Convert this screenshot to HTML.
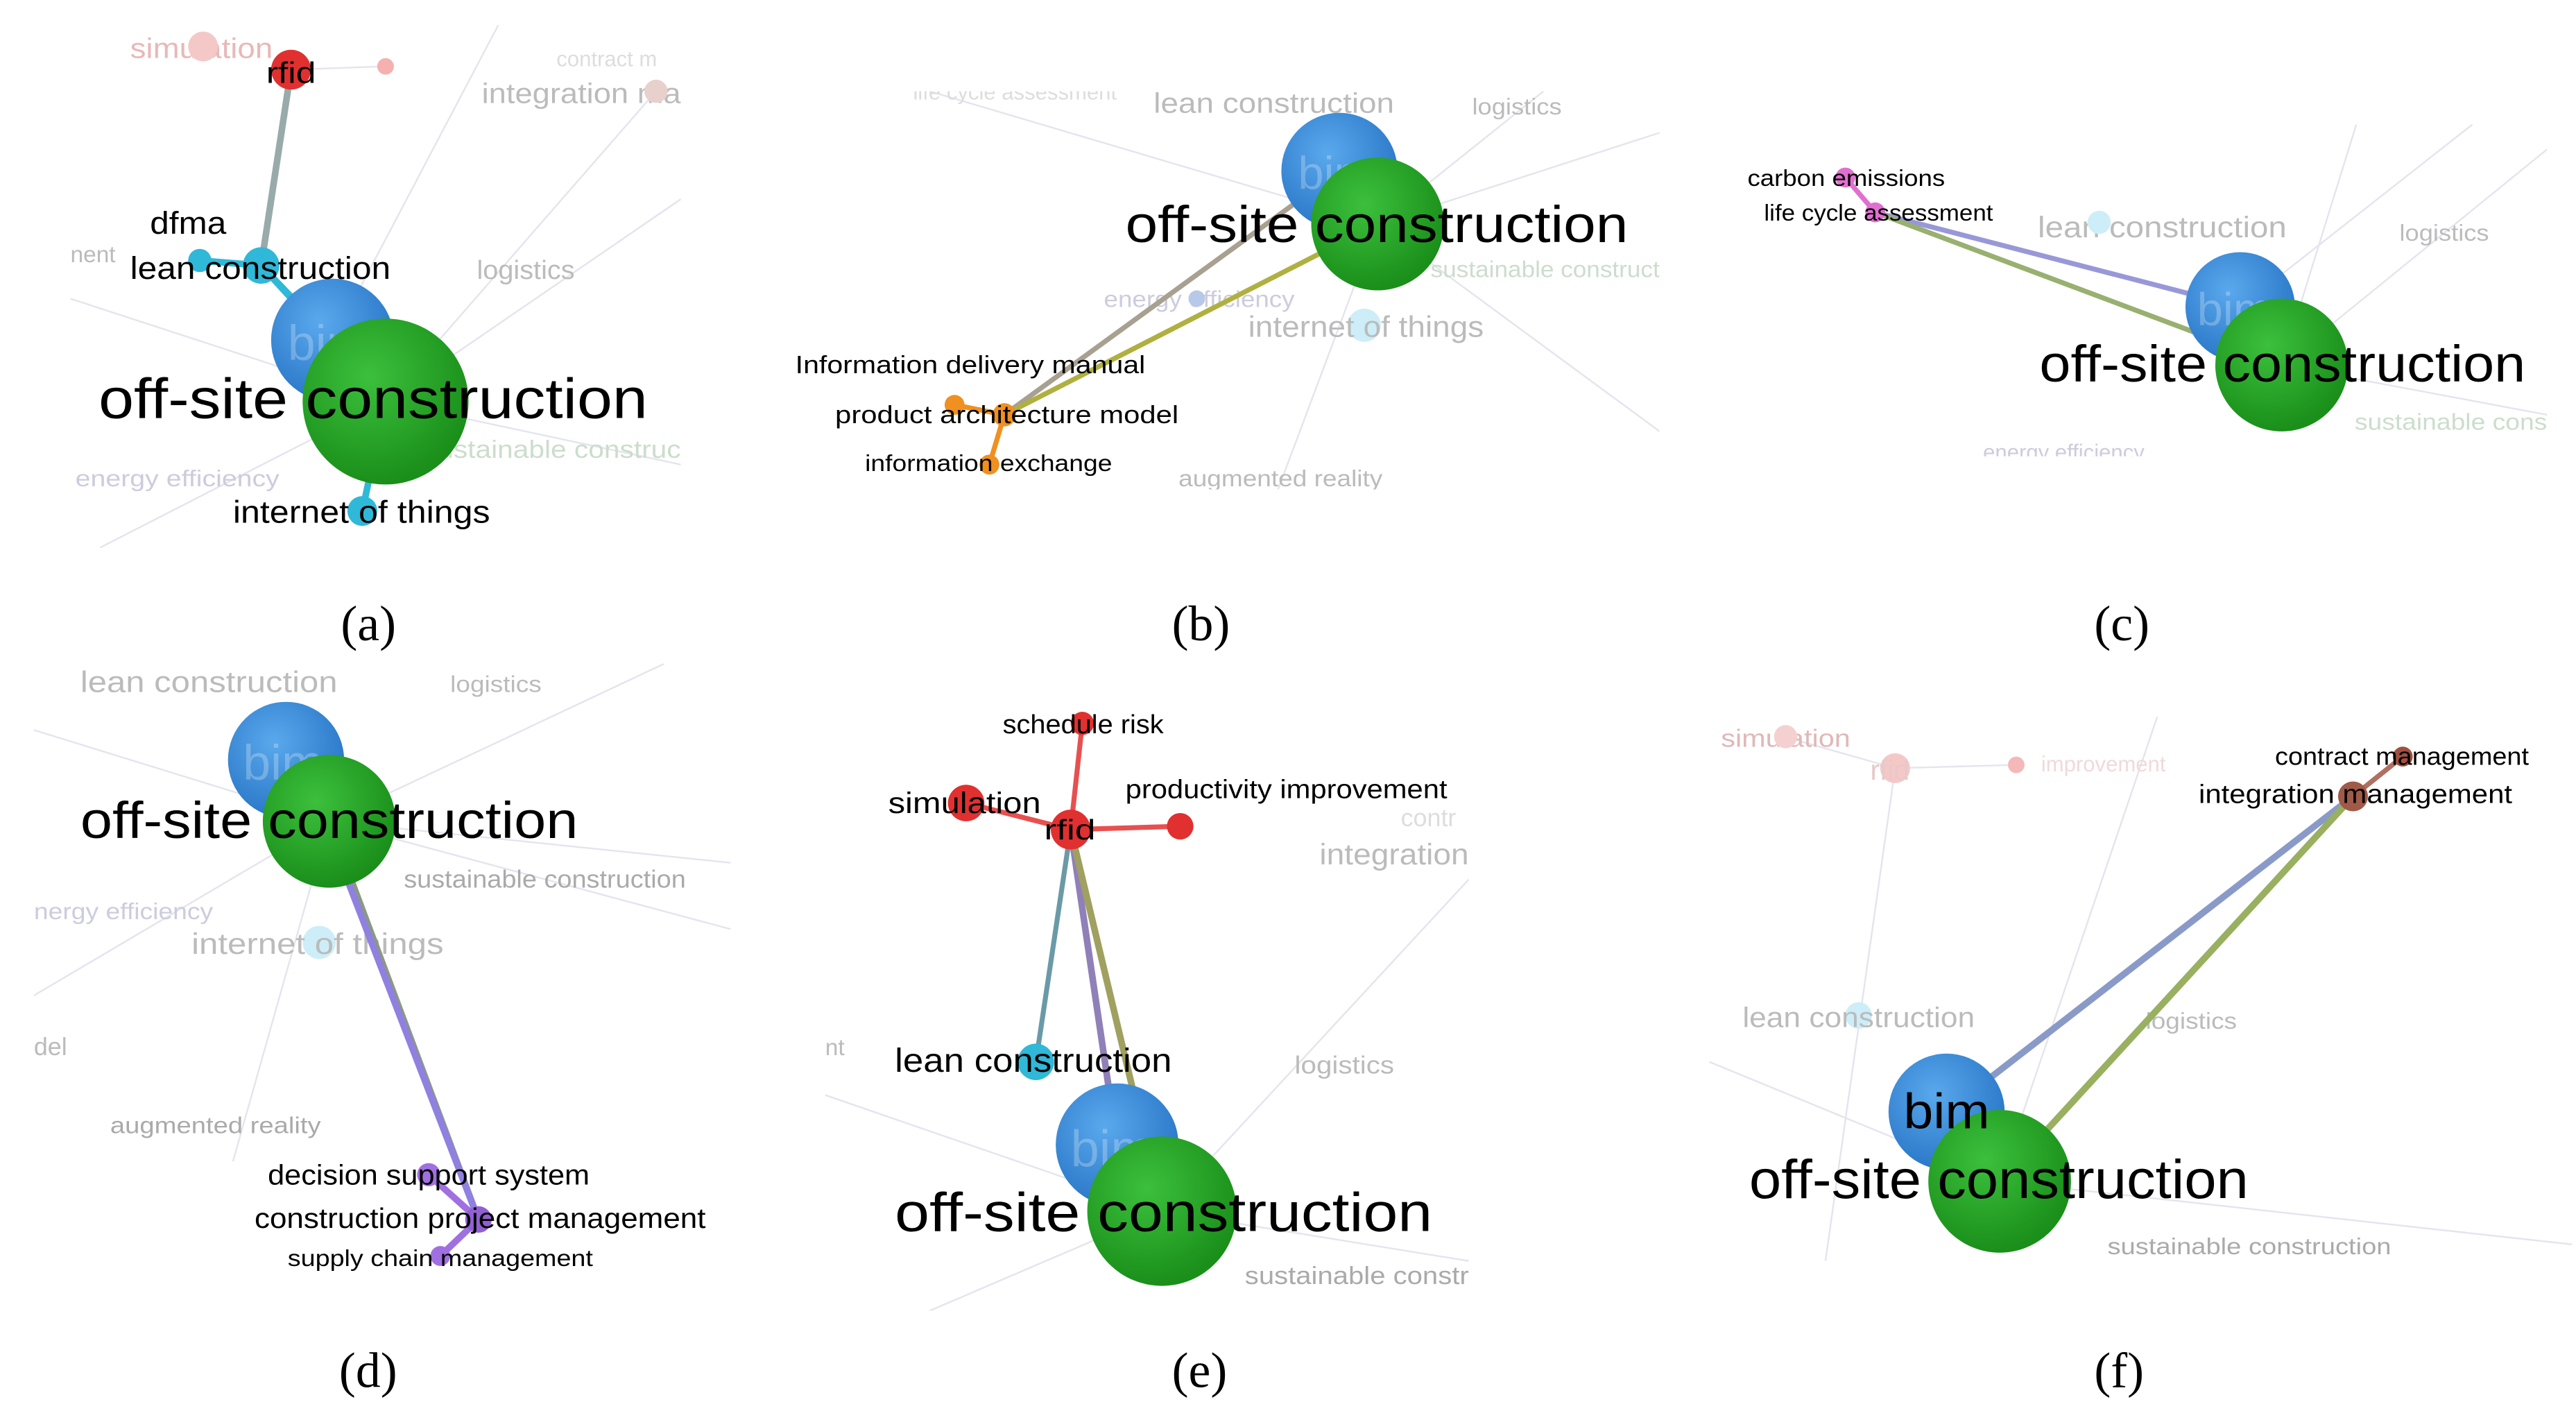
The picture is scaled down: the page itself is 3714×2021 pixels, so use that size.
<!DOCTYPE html>
<html><head><meta charset="utf-8"><style>
html,body{margin:0;padding:0;background:#fff;}
svg{display:block;}
text{font-family:"Liberation Sans","DejaVu Sans",sans-serif;}
.cap{font-family:"Liberation Serif",serif;font-size:30px;fill:#000;}
.f{fill:#bbb;}
.fl{stroke:#e4e4ee;stroke-width:1;}
.bm{fill:#ffffff;fill-opacity:0.25;}
</style></head><body>
<svg width="3714" height="2021" viewBox="0 0 1552 845" xmlns="http://www.w3.org/2000/svg">
<defs>
<radialGradient id="gb" cx="40%" cy="35%" r="65%"><stop offset="0" stop-color="#5aa8ec"/><stop offset="1" stop-color="#2a78c8"/></radialGradient>
<radialGradient id="gg" cx="40%" cy="35%" r="65%"><stop offset="0" stop-color="#3cc03c"/><stop offset="1" stop-color="#1a8f1a"/></radialGradient>
<clipPath id="ca"><rect x="42" y="15" width="368" height="325"/></clipPath>
<clipPath id="cb"><rect x="475" y="55" width="525" height="240"/></clipPath>
<clipPath id="cc"><rect x="1030" y="75" width="505" height="200"/></clipPath>
<clipPath id="cd"><rect x="20" y="400" width="420" height="375"/></clipPath>
<clipPath id="ce"><rect x="497" y="425" width="388" height="365"/></clipPath>
<clipPath id="cf"><rect x="1025" y="432" width="525" height="328"/></clipPath>
</defs>

<!-- (a) -->
<g clip-path="url(#ca)">
<g class="fl"><line x1="232" y1="242" x2="42" y2="180"/><line x1="232" y1="242" x2="410" y2="120"/><line x1="232" y1="242" x2="410" y2="280"/><line x1="232" y1="242" x2="60" y2="330"/><line x1="200" y1="205" x2="300" y2="15"/><line x1="232" y1="242" x2="395" y2="55"/><line x1="175" y1="42" x2="232" y2="40"/></g>
<text x="78" y="35" font-size="17" fill="#e8b8b8" textLength="86" lengthAdjust="spacingAndGlyphs">simulation</text>
<circle cx="122" cy="28" r="9" fill="#f5c8c8"/><circle cx="232" cy="40" r="5" fill="#f5b0b0"/>
<text x="290" y="62" class="f" font-size="17" textLength="120" lengthAdjust="spacingAndGlyphs">integration ma</text>
<text x="335" y="40" font-size="13" fill="#ddd">contract m</text>
<circle cx="395" cy="55" r="7" fill="#e8d0cc"/>
<text x="287" y="168" class="f" font-size="16" textLength="59" lengthAdjust="spacingAndGlyphs">logistics</text>
<text x="45" y="293" font-size="14" fill="#ccd" textLength="123" lengthAdjust="spacingAndGlyphs">energy efficiency</text>
<text x="255" y="276" font-size="15" fill="#cdc" textLength="155" lengthAdjust="spacingAndGlyphs">sustainable construc</text>
<text x="42" y="158" class="f" font-size="14">nent</text>
<line x1="175" y1="42" x2="157" y2="160" stroke="#9aa" stroke-width="4"/>
<line x1="157" y1="160" x2="200" y2="205" stroke="#30b8d8" stroke-width="4"/>
<line x1="120" y1="157" x2="157" y2="160" stroke="#30b8d8" stroke-width="4"/>
<line x1="157" y1="160" x2="232" y2="242" stroke="#30b8d8" stroke-width="4"/>
<line x1="218" y1="308" x2="232" y2="242" stroke="#30b8d8" stroke-width="4"/>
<circle cx="175" cy="42" r="12" fill="#e03030"/>
<circle cx="120" cy="157" r="7" fill="#30b8d8"/>
<circle cx="157" cy="160" r="11" fill="#30b8d8"/>
<circle cx="218" cy="308" r="9" fill="#30b8d8"/>
<circle cx="200" cy="205" r="37" fill="url(#gb)"/>
<text x="173" y="217" font-size="30" class="bm">bim</text>
<circle cx="232" cy="242" r="50" fill="url(#gg)"/>
<text x="160" y="50" font-size="18" fill="#000" textLength="30" lengthAdjust="spacingAndGlyphs">rfid</text>
<text x="90" y="141" font-size="19" fill="#000" textLength="46" lengthAdjust="spacingAndGlyphs">dfma</text>
<text x="78" y="168" font-size="19" fill="#000" textLength="157" lengthAdjust="spacingAndGlyphs">lean construction</text>
<text x="59" y="252" font-size="34" fill="#000" textLength="331" lengthAdjust="spacingAndGlyphs">off-site construction</text>
<text x="140" y="315" font-size="19" fill="#000" textLength="155" lengthAdjust="spacingAndGlyphs">internet of things</text>
</g>
<text x="205" y="386" class="cap">(a)</text>

<!-- (b) -->
<g clip-path="url(#cb)">
<g class="fl"><line x1="830" y1="135" x2="1000" y2="80"/><line x1="830" y1="135" x2="1000" y2="260"/><line x1="830" y1="135" x2="560" y2="55"/><line x1="830" y1="135" x2="770" y2="295"/><line x1="830" y1="135" x2="930" y2="55"/></g>
<text x="550" y="60" font-size="13" fill="#ddd">life cycle assessment</text>
<text x="695" y="68" class="f" font-size="17" textLength="145" lengthAdjust="spacingAndGlyphs">lean construction</text>
<text x="887" y="69" class="f" font-size="14" textLength="54" lengthAdjust="spacingAndGlyphs">logistics</text>
<text x="862" y="167" font-size="14" fill="#cdc" textLength="138" lengthAdjust="spacingAndGlyphs">sustainable construct</text>
<text x="665" y="185" font-size="14" fill="#ccd" textLength="115" lengthAdjust="spacingAndGlyphs">energy efficiency</text>
<circle cx="721" cy="180" r="5" fill="#b8c8e8"/>
<circle cx="822" cy="196" r="10" fill="#cdeef8"/>
<text x="752" y="203" class="f" font-size="18" textLength="142" lengthAdjust="spacingAndGlyphs">internet of things</text>
<text x="710" y="293" class="f" font-size="14" textLength="123" lengthAdjust="spacingAndGlyphs">augmented reality</text>
<line x1="605" y1="250" x2="807" y2="103" stroke="#a8a090" stroke-width="3"/>
<line x1="605" y1="250" x2="830" y2="135" stroke="#b0b040" stroke-width="3"/>
<line x1="575" y1="244" x2="605" y2="250" stroke="#f09020" stroke-width="3"/>
<line x1="596" y1="280" x2="605" y2="250" stroke="#f09020" stroke-width="3"/>
<circle cx="575" cy="244" r="6" fill="#f09020"/>
<circle cx="605" cy="250" r="7" fill="#f09020"/>
<circle cx="596" cy="280" r="6" fill="#f09020"/>
<circle cx="807" cy="103" r="35" fill="url(#gb)"/>
<text x="782" y="114" font-size="28" class="bm">bim</text>
<circle cx="830" cy="135" r="40" fill="url(#gg)"/>
<text x="678" y="146" font-size="31" fill="#000" textLength="303" lengthAdjust="spacingAndGlyphs">off-site construction</text>
<text x="479" y="225" font-size="15" fill="#000" textLength="211" lengthAdjust="spacingAndGlyphs">Information delivery manual</text>
<text x="503" y="255" font-size="15" fill="#000" textLength="207" lengthAdjust="spacingAndGlyphs">product architecture model</text>
<text x="521" y="284" font-size="14" fill="#000" textLength="149" lengthAdjust="spacingAndGlyphs">information exchange</text>
</g>
<text x="706" y="386" class="cap">(b)</text>

<!-- (c) -->
<g clip-path="url(#cc)">
<g class="fl"><line x1="1375" y1="220" x2="1535" y2="90"/><line x1="1375" y1="220" x2="1535" y2="250"/><line x1="1375" y1="220" x2="1420" y2="75"/><line x1="1350" y1="185" x2="1490" y2="75"/></g>
<text x="1228" y="143" class="f" font-size="18" textLength="150" lengthAdjust="spacingAndGlyphs">lean construction</text>
<circle cx="1265" cy="134" r="7" fill="#cdeef8"/>
<text x="1446" y="145" class="f" font-size="14" textLength="54" lengthAdjust="spacingAndGlyphs">logistics</text>
<text x="1419" y="259" font-size="14" fill="#cdc" textLength="116" lengthAdjust="spacingAndGlyphs">sustainable cons</text>
<text x="1195" y="277" font-size="13" fill="#ccd">energy efficiency</text>
<line x1="1130" y1="128" x2="1350" y2="185" stroke="#9898d8" stroke-width="3"/>
<line x1="1130" y1="128" x2="1375" y2="220" stroke="#98b070" stroke-width="3"/>
<line x1="1112" y1="107" x2="1130" y2="128" stroke="#e070d0" stroke-width="3"/>
<circle cx="1112" cy="107" r="6" fill="#e070d0"/>
<circle cx="1130" cy="128" r="6" fill="#e070d0"/>
<circle cx="1350" cy="185" r="33" fill="url(#gb)"/>
<text x="1324" y="196" font-size="28" class="bm">bim</text>
<circle cx="1375" cy="220" r="40" fill="url(#gg)"/>
<text x="1053" y="112" font-size="14" fill="#000" textLength="119" lengthAdjust="spacingAndGlyphs">carbon emissions</text>
<text x="1063" y="133" font-size="14" fill="#000" textLength="138" lengthAdjust="spacingAndGlyphs">life cycle assessment</text>
<text x="1229" y="230" font-size="31" fill="#000" textLength="293" lengthAdjust="spacingAndGlyphs">off-site construction</text>
</g>
<text x="1262" y="386" class="cap">(c)</text>

<!-- (d) -->
<g clip-path="url(#cd)">
<g class="fl"><line x1="198" y1="495" x2="20" y2="440"/><line x1="198" y1="495" x2="440" y2="520"/><line x1="198" y1="495" x2="20" y2="600"/><line x1="198" y1="495" x2="140" y2="700"/><line x1="198" y1="495" x2="400" y2="400"/><line x1="198" y1="495" x2="440" y2="560"/></g>
<text x="48" y="417" class="f" font-size="18" textLength="155" lengthAdjust="spacingAndGlyphs">lean construction</text>
<text x="271" y="417" class="f" font-size="14" textLength="55" lengthAdjust="spacingAndGlyphs">logistics</text>
<text x="243" y="535" font-size="15" fill="#aaa" textLength="170" lengthAdjust="spacingAndGlyphs">sustainable construction</text>
<text x="20" y="554" font-size="14" fill="#ccd" textLength="108" lengthAdjust="spacingAndGlyphs">nergy efficiency</text>
<circle cx="192" cy="568" r="10" fill="#cdeef8"/>
<text x="115" y="575" class="f" font-size="18" textLength="152" lengthAdjust="spacingAndGlyphs">internet of things</text>
<text x="20" y="636" class="f" font-size="15">del</text>
<text x="66" y="683" font-size="14" fill="#aaa" textLength="127" lengthAdjust="spacingAndGlyphs">augmented reality</text>
<line x1="288" y1="735" x2="198" y2="495" stroke="#8a9a80" stroke-width="4"/>
<line x1="288" y1="735" x2="205" y2="520" stroke="#9080e0" stroke-width="4"/>
<line x1="258" y1="708" x2="288" y2="735" stroke="#a070e0" stroke-width="4"/>
<line x1="265" y1="757" x2="288" y2="735" stroke="#a070e0" stroke-width="4"/>
<circle cx="258" cy="708" r="7" fill="#a070e0"/>
<circle cx="288" cy="735" r="8" fill="#9060d0"/>
<circle cx="265" cy="757" r="6" fill="#a070e0"/>
<circle cx="172" cy="458" r="35" fill="url(#gb)"/>
<text x="146" y="470" font-size="30" class="bm">bim</text>
<circle cx="198" cy="495" r="40" fill="url(#gg)"/>
<text x="48" y="505" font-size="31" fill="#000" textLength="300" lengthAdjust="spacingAndGlyphs">off-site construction</text>
<text x="161" y="714" font-size="17" fill="#000" textLength="194" lengthAdjust="spacingAndGlyphs">decision support system</text>
<text x="153" y="740" font-size="17" fill="#000" textLength="272" lengthAdjust="spacingAndGlyphs">construction project management</text>
<text x="173" y="763" font-size="14" fill="#000" textLength="184" lengthAdjust="spacingAndGlyphs">supply chain management</text>
</g>
<text x="204" y="836" class="cap">(d)</text>

<!-- (e) -->
<g clip-path="url(#ce)">
<g class="fl"><line x1="700" y1="730" x2="885" y2="530"/><line x1="700" y1="730" x2="885" y2="760"/><line x1="700" y1="730" x2="497" y2="660"/><line x1="700" y1="730" x2="560" y2="790"/><line x1="645" y1="500" x2="710" y2="498"/></g>
<text x="844" y="498" font-size="15" fill="#ddd">contr</text>
<text x="795" y="521" class="f" font-size="18" textLength="90" lengthAdjust="spacingAndGlyphs">integration</text>
<text x="780" y="647" class="f" font-size="15" textLength="60" lengthAdjust="spacingAndGlyphs">logistics</text>
<text x="750" y="774" font-size="15" fill="#aaa" textLength="135" lengthAdjust="spacingAndGlyphs">sustainable constr</text>
<text x="497" y="636" class="f" font-size="14">nt</text>
<line x1="645" y1="500" x2="652" y2="436" stroke="#e85050" stroke-width="3"/>
<line x1="645" y1="500" x2="582" y2="484" stroke="#e85050" stroke-width="3"/>
<line x1="645" y1="500" x2="711" y2="498" stroke="#e85050" stroke-width="3"/>
<line x1="645" y1="500" x2="624" y2="640" stroke="#6a9aa8" stroke-width="3"/>
<line x1="645" y1="500" x2="673" y2="690" stroke="#9080b8" stroke-width="4"/>
<line x1="645" y1="500" x2="700" y2="730" stroke="#a0a060" stroke-width="4"/>
<circle cx="652" cy="436" r="7" fill="#e03030"/>
<circle cx="582" cy="484" r="11" fill="#e03030"/>
<circle cx="711" cy="498" r="8" fill="#e03030"/>
<circle cx="645" cy="500" r="12" fill="#e03030"/>
<circle cx="624" cy="640" r="11" fill="#30b8d8"/>
<circle cx="673" cy="690" r="37" fill="url(#gb)"/>
<text x="645" y="703" font-size="31" class="bm">bim</text>
<circle cx="700" cy="730" r="45" fill="url(#gg)"/>
<text x="604" y="442" font-size="16" fill="#000" textLength="97" lengthAdjust="spacingAndGlyphs">schedule risk</text>
<text x="535" y="490" font-size="18" fill="#000" textLength="92" lengthAdjust="spacingAndGlyphs">simulation</text>
<text x="629" y="506" font-size="17" fill="#000" textLength="31" lengthAdjust="spacingAndGlyphs">rfid</text>
<text x="678" y="481" font-size="16" fill="#000" textLength="194" lengthAdjust="spacingAndGlyphs">productivity improvement</text>
<text x="539" y="646" font-size="20" fill="#000" textLength="167" lengthAdjust="spacingAndGlyphs">lean construction</text>
<text x="539" y="742" font-size="33" fill="#000" textLength="324" lengthAdjust="spacingAndGlyphs">off-site construction</text>
</g>
<text x="706" y="836" class="cap">(e)</text>

<!-- (f) -->
<g clip-path="url(#cf)">
<g class="fl"><line x1="1205" y1="712" x2="1550" y2="750"/><line x1="1205" y1="712" x2="1030" y2="640"/><line x1="1205" y1="712" x2="1300" y2="432"/><line x1="1142" y1="463" x2="1215" y2="461"/><line x1="1075" y1="444" x2="1142" y2="463"/><line x1="1142" y1="463" x2="1100" y2="760"/></g>
<text x="1037" y="450" font-size="15" fill="#e0b8b8" textLength="78" lengthAdjust="spacingAndGlyphs">simulation</text>
<circle cx="1076" cy="444" r="7" fill="#f5d0d0"/>
<circle cx="1142" cy="463" r="9" fill="#f5c8c8"/>
<text x="1127" y="470" font-size="17" fill="#e8c8c8">rfid</text>
<circle cx="1215" cy="461" r="5" fill="#f5b8b8"/>
<text x="1230" y="465" font-size="13" fill="#f0dada">improvement</text>
<circle cx="1120" cy="612" r="8" fill="#cdeef8"/>
<text x="1050" y="619" class="f" font-size="17" textLength="140" lengthAdjust="spacingAndGlyphs">lean construction</text>
<text x="1293" y="620" class="f" font-size="14" textLength="55" lengthAdjust="spacingAndGlyphs">logistics</text>
<text x="1270" y="756" font-size="14" fill="#aaa" textLength="171" lengthAdjust="spacingAndGlyphs">sustainable construction</text>
<line x1="1418" y1="480" x2="1173" y2="670" stroke="#8a9ac8" stroke-width="4"/>
<line x1="1418" y1="480" x2="1205" y2="712" stroke="#98b060" stroke-width="4"/>
<line x1="1448" y1="456" x2="1418" y2="480" stroke="#b07060" stroke-width="3"/>
<circle cx="1448" cy="456" r="6" fill="#a05040"/>
<circle cx="1418" cy="480" r="9" fill="#a05a48"/>
<circle cx="1173" cy="670" r="35" fill="url(#gb)"/>
<circle cx="1205" cy="712" r="43" fill="url(#gg)"/>
<text x="1147" y="680" font-size="30" fill="#000" textLength="52" lengthAdjust="spacingAndGlyphs">bim</text>
<text x="1371" y="461" font-size="15" fill="#000" textLength="153" lengthAdjust="spacingAndGlyphs">contract management</text>
<text x="1325" y="484" font-size="16" fill="#000" textLength="189" lengthAdjust="spacingAndGlyphs">integration management</text>
<text x="1054" y="722" font-size="33" fill="#000" textLength="301" lengthAdjust="spacingAndGlyphs">off-site construction</text>
</g>
<text x="1262" y="836" class="cap">(f)</text>
</svg>
</body></html>
